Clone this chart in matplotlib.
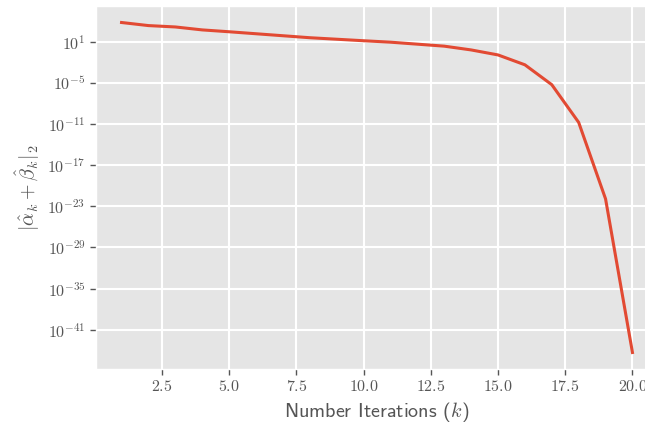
import numpy as np
import matplotlib
matplotlib.use("Agg")
import matplotlib.pyplot as plt
from matplotlib.ticker import FuncFormatter, NullLocator

plt.style.use("ggplot")
plt.rcParams["mathtext.fontset"] = "cm"

# residual norm per iteration (log10 of the value)
iterations = np.arange(1, 21)
log_residual = [3.80, 3.35, 3.15, 2.72, 2.45, 2.16, 1.87, 1.58, 1.36, 1.14,
                0.93, 0.64, 0.35, -0.20, -0.93, -2.37, -5.27, -10.77, -21.93, -44.33]
residual = 10.0 ** np.array(log_residual)

xticks = [2.5, 5.0, 7.5, 10.0, 12.5, 15.0, 17.5, 20.0]
ytick_exponents = [1, -5, -11, -17, -23, -29, -35, -41]

fig = plt.figure(figsize=(6.45, 4.26), dpi=100)
ax = fig.add_axes([96 / 645, 57 / 426, 562 / 645, 363 / 426])

ax.plot(iterations, residual, color="#E24A33", lw=2.2)
ax.set_yscale("log")

ax.set_xticks(xticks)
ax.set_yticks([10.0 ** e for e in ytick_exponents])
ax.yaxis.set_minor_locator(NullLocator())
ax.xaxis.set_major_formatter(FuncFormatter(lambda v, p: r"$%.1f$" % v))
ax.yaxis.set_major_formatter(FuncFormatter(lambda v, p: r"$10^{%d}$" % round(np.log10(v))))
ax.tick_params(labelsize=11.5, colors="#555555", length=4, width=1)
ax.grid(True, color="white", lw=1.5)

ax.set_xlabel(r"Number Iterations ($k$)", fontfamily="cmss10", fontsize=14.5, color="#555555")
ax.set_ylabel(r"$|\hat{\alpha}_k + \hat{\beta}_k|_2$", fontsize=14.5, color="#555555")

fig.savefig("out.png", dpi=100)
